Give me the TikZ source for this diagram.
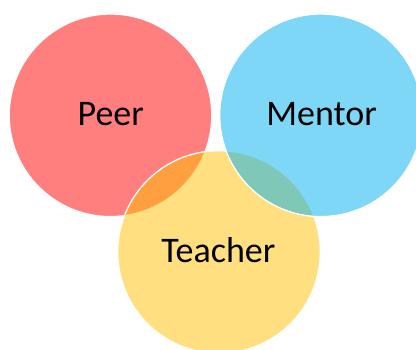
\documentclass[tikz,border=0pt]{standalone}
\usepackage{fontspec}
\setmainfont{Carlito}
\begin{document}
\begin{tikzpicture}[x=1pt,y=1pt,
  setcircle/.style={draw=white, line width=1.3pt, fill opacity=0.5, draw opacity=1},
  setlabel/.style={anchor=base, font=\fontsize{36}{40}\selectfont, text=black, inner sep=0pt}]
  \definecolor{peerred}{HTML}{FF0000}
  \definecolor{teacheryellow}{HTML}{FFC000}
  \definecolor{mentorblue}{HTML}{00B0F0}
  \useasboundingbox (0,0) rectangle (416,349);
  \clip (0,0) rectangle (416,349);
  % three overlapping sets, drawn back to front
  \fill[white] (0,0) rectangle (416,349);
  \path[setcircle, fill=peerred] (110.5,233.7) circle (101.3);
  \path[setcircle, fill=teacheryellow] (219,97) circle (101.3);
  \path[setcircle, fill=mentorblue] (321,233.7) circle (101.3);
  % labels
  \node[setlabel] (peer) at (110.8,223) {Peer};
  \node[setlabel] (mentor) at (321.7,223) {Mentor};
  \node[setlabel] (teacher) at (218.3,86) {Teacher};
\end{tikzpicture}
\end{document}
